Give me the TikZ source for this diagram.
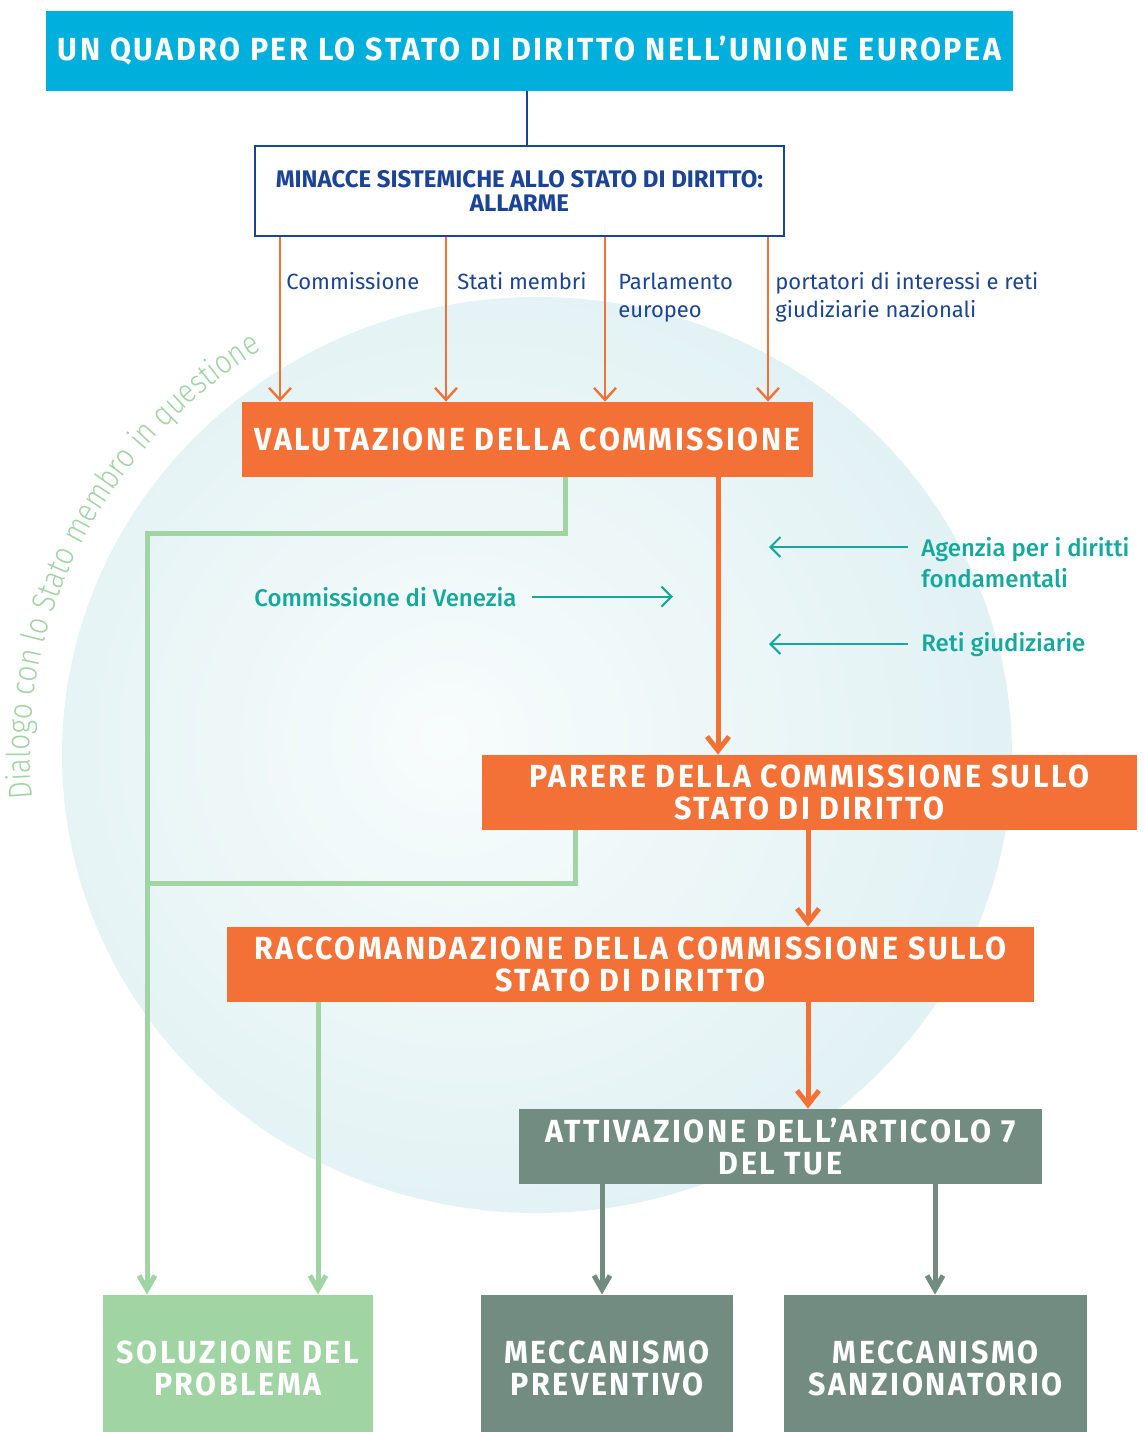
\documentclass[tikz,border=0pt]{standalone}
\usepackage{fontspec}
\setmainfont{Fira Sans}
\newfontfamily\boxfont[LetterSpace=8,FakeStretch=0.95]{Fira Sans}
\newfontfamily\medfont{Fira Sans Medium}
\newfontfamily\thinfont[FakeStretch=0.85]{Fira Sans Light}
\usepackage{tikz}
\usetikzlibrary{arrows.meta}
\usetikzlibrary{decorations.text}
\usepackage{xcolor}

\definecolor{eucyan}{HTML}{00AFDB}
\definecolor{eunavy}{HTML}{1B4497}
\definecolor{euorange}{HTML}{F37136}
\definecolor{eugreen}{HTML}{A0D4A2}
\definecolor{eugrey}{HTML}{728C82}
\definecolor{euteal}{HTML}{14A99C}
\definecolor{bubin}{HTML}{F8FCFC}
\definecolor{bubout}{HTML}{DAEEF1}
\pgfdeclareradialshading{bubble}{\pgfpoint{-5bp}{1bp}}{color(0bp)=(bubin); color(36bp)=(bubout); color(60bp)=(bubout)}

\begin{document}
\begin{tikzpicture}[x=0.5pt,y=-0.5pt,
    titlebox/.style={rectangle, inner sep=0pt, fill=eucyan, text=white, align=center,
        font=\boxfont\bfseries\fontsize{16}{16}\selectfont},
    alarmbox/.style={rectangle, inner sep=0pt, draw=eunavy, line width=1pt, fill=white,
        text=eunavy, align=center, font=\bfseries\fontsize{12}{12}\selectfont},
    orangebox/.style={rectangle, inner sep=0pt, fill=euorange, text=white, align=center,
        font=\boxfont\bfseries\fontsize{16}{16}\selectfont},
    greybox/.style={orangebox, fill=eugrey},
    greenbox/.style={orangebox, fill=eugreen},
    srctext/.style={inner sep=0pt, anchor=base west, align=left, text=eunavy,
        font=\fontsize{11}{14}\selectfont},
    tealtext/.style={inner sep=0pt, align=left, text=euteal,
        font=\medfont\fontsize{12}{15.5}\selectfont},
    navyline/.style={draw=eunavy, line width=1pt},
    thinarrow/.style={draw=euorange, line width=1.2pt, -{Straight Barb[length=6pt,width=11pt]}},
    mainarrow/.style={draw=euorange, line width=2.5pt, -{Straight Barb[length=7pt,width=11pt]}},
    greenline/.style={draw=eugreen, line width=2.5pt, -{Straight Barb[length=7pt,width=8pt]}},
    greyarrow/.style={draw=eugrey, line width=2.5pt, -{Straight Barb[length=7pt,width=8pt]}},
    tealarrow/.style={draw=euteal, line width=1pt, -{Straight Barb[length=5pt,width=10pt]}}]

\useasboundingbox (0,0) rectangle (1144,1432);

% sfondo
\shade[shading=bubble] (537,755) ellipse [x radius=475, y radius=458];
\path[decorate, decoration={text along path, text align=left, text color=eugreen,
    text={|\thinfont\fontsize{16.5}{16.5}\selectfont|Dialogo con lo Stato membro in questione}}]
    (537,755) ++(174.8:507 and 482) arc [start angle=174.8, end angle=250, x radius=507, y radius=482];

% riquadri
\node[titlebox, minimum width=483.5pt, minimum height=40pt] (quadro) at (529.5,51)
    {UN QUADRO PER LO STATO DI DIRITTO NELL’UNIONE EUROPEA};
\node[alarmbox, minimum width=264.5pt, minimum height=45pt] (minacce) at (519.5,191)
    {MINACCE SISTEMICHE ALLO STATO DI DIRITTO:\\ALLARME};
\node[orangebox, minimum width=285.5pt, minimum height=37.5pt] (valutazione) at (527.5,439.5)
    {VALUTAZIONE DELLA COMMISSIONE};
\node[orangebox, minimum width=327.5pt, minimum height=37.5pt] (parere) at (809.5,792.5)
    {PARERE DELLA COMMISSIONE SULLO\\STATO DI DIRITTO};
\node[orangebox, minimum width=403.5pt, minimum height=37.5pt] (raccomandazione) at (630.5,964.5)
    {RACCOMANDAZIONE DELLA COMMISSIONE SULLO\\STATO DI DIRITTO};
\node[greybox, minimum width=261.5pt, minimum height=37.5pt] (attivazione) at (780.5,1146.5)
    {ATTIVAZIONE DELL’ARTICOLO 7\\DEL TUE};
\node[greenbox, minimum width=135pt, minimum height=73.5pt] (soluzione) at (238,1368.5)
    {SOLUZIONE DEL\\PROBLEMA};
\node[greybox, minimum width=126pt, minimum height=73.5pt] (preventivo) at (607,1368.5)
    {MECCANISMO\\PREVENTIVO};
\node[greybox, minimum width=151.5pt, minimum height=73.5pt] (sanzionatorio) at (935.5,1368.5)
    {MECCANISMO\\SANZIONATORIO};

% fonti dell'allarme
\node[srctext] (lcomm) at (286,289) {Commissione};
\node[srctext] (lstati) at (457,289) {Stati membri};
\node[srctext] (lparl) at (618,317) {Parlamento\\europeo};
\node[srctext] (lport) at (775,317) {portatori di interessi e reti\\giudiziarie nazionali};

\draw[navyline] (quadro.south -| 527,0) -- (minacce.north -| 527,0);
\foreach \x in {280,446,605,768}
    \draw[thinarrow] (minacce.south -| \x,0) -- (valutazione.north -| \x,0);

% percorso principale
\draw[mainarrow] (valutazione.south -| 718,0) -- (parere.north -| 718,0);
\draw[mainarrow] (parere.south -| 808,0) -- (raccomandazione.north -| 808,0);
\draw[mainarrow] (raccomandazione.south -| 808,0) -- (attivazione.north -| 808,0);

% dialogo
\coordinate (bend) at (147,533);
\coordinate (merge) at (147,883);
\draw[greenline] (valutazione.south -| 565,0) |- (bend) -- (soluzione.north -| bend);
\draw[greenline, -] (parere.south -| 575,0) |- (merge);
\draw[greenline] (raccomandazione.south -| 318,0) -- (soluzione.north -| 318,0);

\foreach \x/\dest in {602/preventivo,935/sanzionatorio}
    \draw[greyarrow] (attivazione.south -| \x,0) -- (\dest.north -| \x,0);

% contributi esterni
\node[tealtext, anchor=base west] (venezia) at (254,606) {Commissione di Venezia};
\node[tealtext, anchor=north west] (agenzia) at (921,537) {Agenzia per i diritti\\fondamentali};
\node[tealtext, anchor=base west] (reti) at (921,651) {Reti giudiziarie};
\coordinate (fra) at (908,547);
\draw[tealarrow] ([xshift=7.5pt]venezia.east) -- ++(141,0);
\draw[tealarrow] (fra) -- ++(-139,0);
\draw[tealarrow] ([xshift=-6.5pt]reti.west) -- ++(-139,0);

\end{tikzpicture}
\end{document}
